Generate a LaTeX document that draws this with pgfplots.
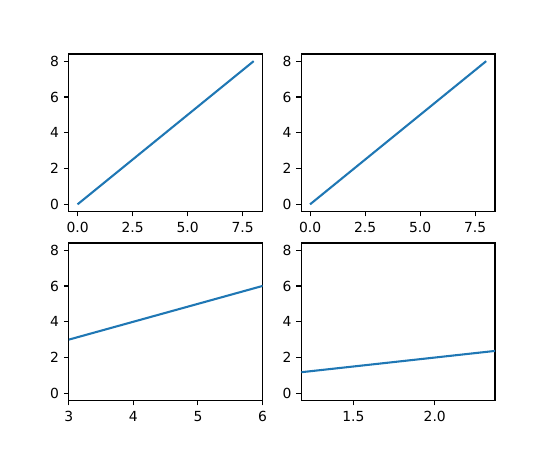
\documentclass[border=0pt]{standalone}
\usepackage{fontspec}
\setmainfont{DejaVu Sans}
\usepackage{pgfplots}
\pgfplotsset{compat=1.18}
\definecolor{mplblue}{HTML}{1F77B4}
\pgfplotsset{
  mpl/.style={
    scale only axis,
    width=139.5pt, height=113.4pt,
    anchor=south west,
    axis line style={line width=0.8pt},
    tick style={line width=0.8pt, black},
    tick align=outside,
    major tick length=3.5pt,
    xtick pos=bottom, ytick pos=left,
    ymin=-0.4, ymax=8.4,
    ytick={0,2,4,6,8},
    tick label style={font=\fontsize{10}{12}\selectfont},
    /pgf/number format/assume math mode=true,
    xticklabel style={yshift=-1pt},
    clip=true,
  },
}
\pgfplotstableread{
x y
0 0
1 1
2 2
3 3
4 4
5 5
6 6
7 7
8 8
}\data
\begin{document}
\begin{tikzpicture}
\path[use as bounding box] (0,0) rectangle (396pt,324pt);
\begin{axis}[mpl, at={(49.5pt,171.72pt)}, xmin=-0.4, xmax=8.4, xtick={0,2.5,5,7.5},
  xticklabel style={/pgf/number format/.cd, fixed, fixed zerofill, precision=1}]
\addplot[mplblue, line width=1.5pt] table {\data};
\end{axis}
\begin{axis}[mpl, at={(216.9pt,171.72pt)}, xmin=-0.4, xmax=8.4, xtick={0,2.5,5,7.5},
  xticklabel style={/pgf/number format/.cd, fixed, fixed zerofill, precision=1}]
\addplot[mplblue, line width=1.5pt] table {\data};
\end{axis}
\begin{axis}[mpl, at={(49.5pt,35.64pt)}, xmin=3, xmax=6, xtick={3,4,5,6}]
\addplot[mplblue, line width=1.5pt] table {\data};
\end{axis}
\begin{axis}[mpl, at={(216.9pt,35.64pt)}, xmin=1.18, xmax=2.37, xtick={1.5,2.0},
  xticklabel style={/pgf/number format/.cd, fixed, fixed zerofill, precision=1}]
\addplot[mplblue, line width=1.5pt] table {\data};
\end{axis}
\end{tikzpicture}
\end{document}
